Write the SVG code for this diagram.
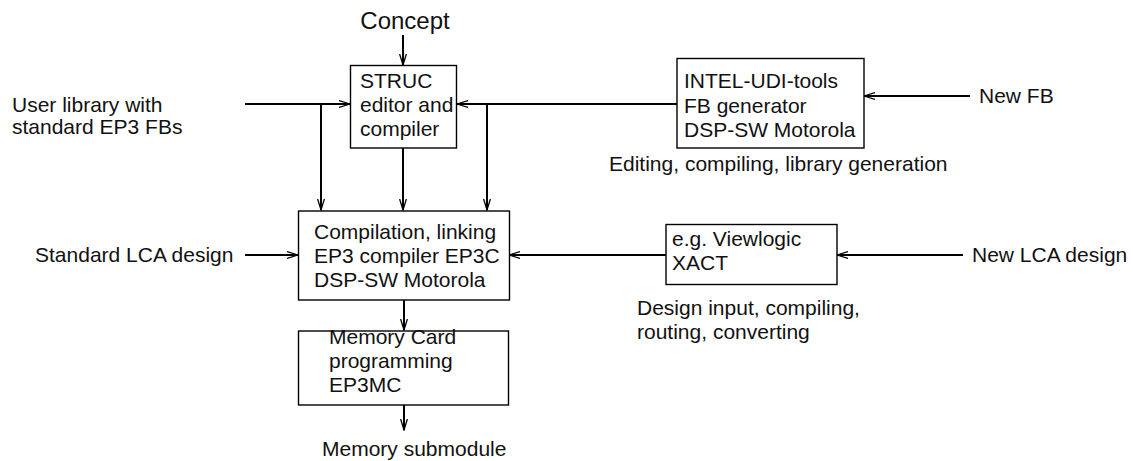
<svg xmlns="http://www.w3.org/2000/svg" width="1133" height="461" viewBox="0 0 1133 461">
<style>
text{font-family:"Liberation Sans",Arial,sans-serif;font-size:21px;fill:#111}
.box{fill:#fff;stroke:#000;stroke-width:1.4}
.c{fill:none;stroke:#000;stroke-width:2}
</style>
<defs>
<marker id="ah" markerUnits="userSpaceOnUse" markerWidth="12" markerHeight="8" refX="11" refY="4" orient="auto">
<path d="M0,0.6 L11,4 L0,7.4" fill="none" stroke="#000" stroke-width="1.3"/>
</marker>
</defs>
<rect width="1133" height="461" fill="#fff"/>
<g id="connectors">
<line class="c" x1="403" y1="35" x2="403" y2="65" marker-end="url(#ah)"/>
<line class="c" x1="245" y1="104" x2="350" y2="104" marker-end="url(#ah)"/>
<line class="c" x1="677" y1="104" x2="457" y2="104" marker-end="url(#ah)"/>
<line class="c" x1="321" y1="104" x2="321" y2="210" marker-end="url(#ah)"/>
<line class="c" x1="403" y1="148" x2="403" y2="210" marker-end="url(#ah)"/>
<line class="c" x1="487" y1="104" x2="487" y2="210" marker-end="url(#ah)"/>
<line class="c" x1="970" y1="96" x2="864" y2="96" marker-end="url(#ah)"/>
<line class="c" x1="245" y1="255" x2="298" y2="255" marker-end="url(#ah)"/>
<line class="c" x1="666" y1="255" x2="509" y2="255" marker-end="url(#ah)"/>
<line class="c" x1="963" y1="255" x2="837" y2="255" marker-end="url(#ah)"/>
<line class="c" x1="404" y1="300" x2="404" y2="330" marker-end="url(#ah)"/>
<line class="c" x1="404" y1="405" x2="404" y2="430" marker-end="url(#ah)"/>
</g>
<g id="concept"><text x="405" y="29" font-size="24" text-anchor="middle" style="font-size:24px">Concept</text></g>
<g id="userlib"><text x="12" y="112">User library with</text><text x="12" y="134">standard EP3 FBs</text></g>
<g id="struc">
<rect class="box" x="350.5" y="65.5" width="106" height="82.5"/>
<text x="360" y="88">STRUC</text><text x="360" y="112">editor and</text><text x="360" y="136">compiler</text>
</g>
<g id="intel">
<rect class="box" x="677" y="58.5" width="187" height="89.5"/>
<text x="684" y="88">INTEL-UDI-tools</text><text x="684" y="113">FB generator</text><text x="684" y="137">DSP-SW Motorola</text>
</g>
<g id="newfb"><text x="979" y="103">New FB</text></g>
<g id="editing"><text x="609" y="171">Editing, compiling, library generation</text></g>
<g id="stdlca"><text x="35" y="262">Standard LCA design</text></g>
<g id="compilation">
<rect class="box" x="298.5" y="211" width="211" height="89"/>
<text x="314" y="239">Compilation, linking</text><text x="314" y="263">EP3 compiler EP3C</text><text x="314" y="287">DSP-SW Motorola</text>
</g>
<g id="viewlogic">
<rect class="box" x="666" y="224.5" width="171" height="60"/>
<text x="672" y="246">e.g. Viewlogic</text><text x="672" y="270">XACT</text>
</g>
<g id="newlca"><text x="972" y="262">New LCA design</text></g>
<g id="designinput"><text x="637" y="315">Design input, compiling,</text><text x="637" y="339">routing, converting</text></g>
<g id="memcard">
<rect class="box" x="298.5" y="331" width="210" height="74"/>
<text x="329" y="344">Memory Card</text><text x="329" y="368">programming</text><text x="329" y="392">EP3MC</text>
</g>
<g id="memsub"><text x="322" y="456">Memory submodule</text></g>
</svg>
